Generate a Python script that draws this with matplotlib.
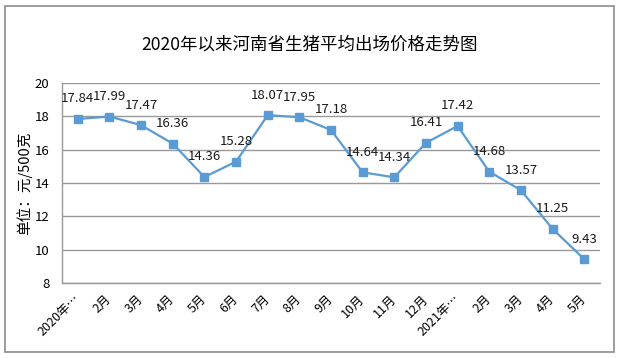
import matplotlib.pyplot as plt
from matplotlib.patches import Rectangle

plt.rcParams['font.family'] = ['Noto Sans CJK SC', 'DejaVu Sans']

# Data
months = ["2020年…", "2月", "3月", "4月", "5月", "6月", "7月", "8月", "9月",
          "10月", "11月", "12月", "2021年…", "2月", "3月", "4月", "5月"]
prices = [17.84, 17.99, 17.47, 16.36, 14.36, 15.28, 18.07, 17.95, 17.18,
          14.64, 14.34, 16.41, 17.42, 14.68, 13.57, 11.25, 9.43]
title = "2020年以来河南省生猪平均出场价格走势图"
ylabel = "单位：元/500克"

fig = plt.figure(figsize=(6.19, 3.58), dpi=100)
fig.patches.append(Rectangle((5 / 619, 1 - 352 / 358), 609 / 619, 346 / 358,
                             transform=fig.transFigure, fill=False,
                             edgecolor="#8c8c8c", linewidth=1.2))

ax = fig.add_axes([62 / 619, 1 - 283 / 358, 538 / 619, 200 / 358])
x = list(range(len(months)))
ax.plot(x, prices, color="#5B9BD5", linewidth=1.6, marker="s",
        markersize=5.5, markerfacecolor="#5B9BD5", markeredgecolor="#5B9BD5")

for xi, v in zip(x, prices):
    ax.annotate(f"{v:.2f}", (xi, v), xytext=(0, 14.5), textcoords="offset points",
                ha="center", va="center", fontsize=9.5, color="#1a1a1a")

ax.set_xlim(-0.5, len(months) - 0.5)
ax.set_ylim(8, 20)
ax.set_yticks(range(8, 21, 2))
ax.yaxis.grid(True, color="#999999", linewidth=1)
ax.set_axisbelow(True)
ax.set_xticks(x)
ax.set_xticklabels(months, rotation=45, ha="right", va="center",
                   rotation_mode="anchor", fontsize=9)
ax.tick_params(axis="x", length=0, pad=10)
ax.tick_params(axis="y", length=0, labelsize=9.5, pad=9)

for side in ["top", "right"]:
    ax.spines[side].set_visible(False)
for side in ["left", "bottom"]:
    ax.spines[side].set_color("#999999")
    ax.spines[side].set_linewidth(1)

ax.set_ylabel(ylabel, fontsize=10.5, labelpad=2)
fig.text(310 / 619, 1 - 45 / 358, title, ha="center", va="center", fontsize=12.6)

fig.savefig("out.png", dpi=100)
